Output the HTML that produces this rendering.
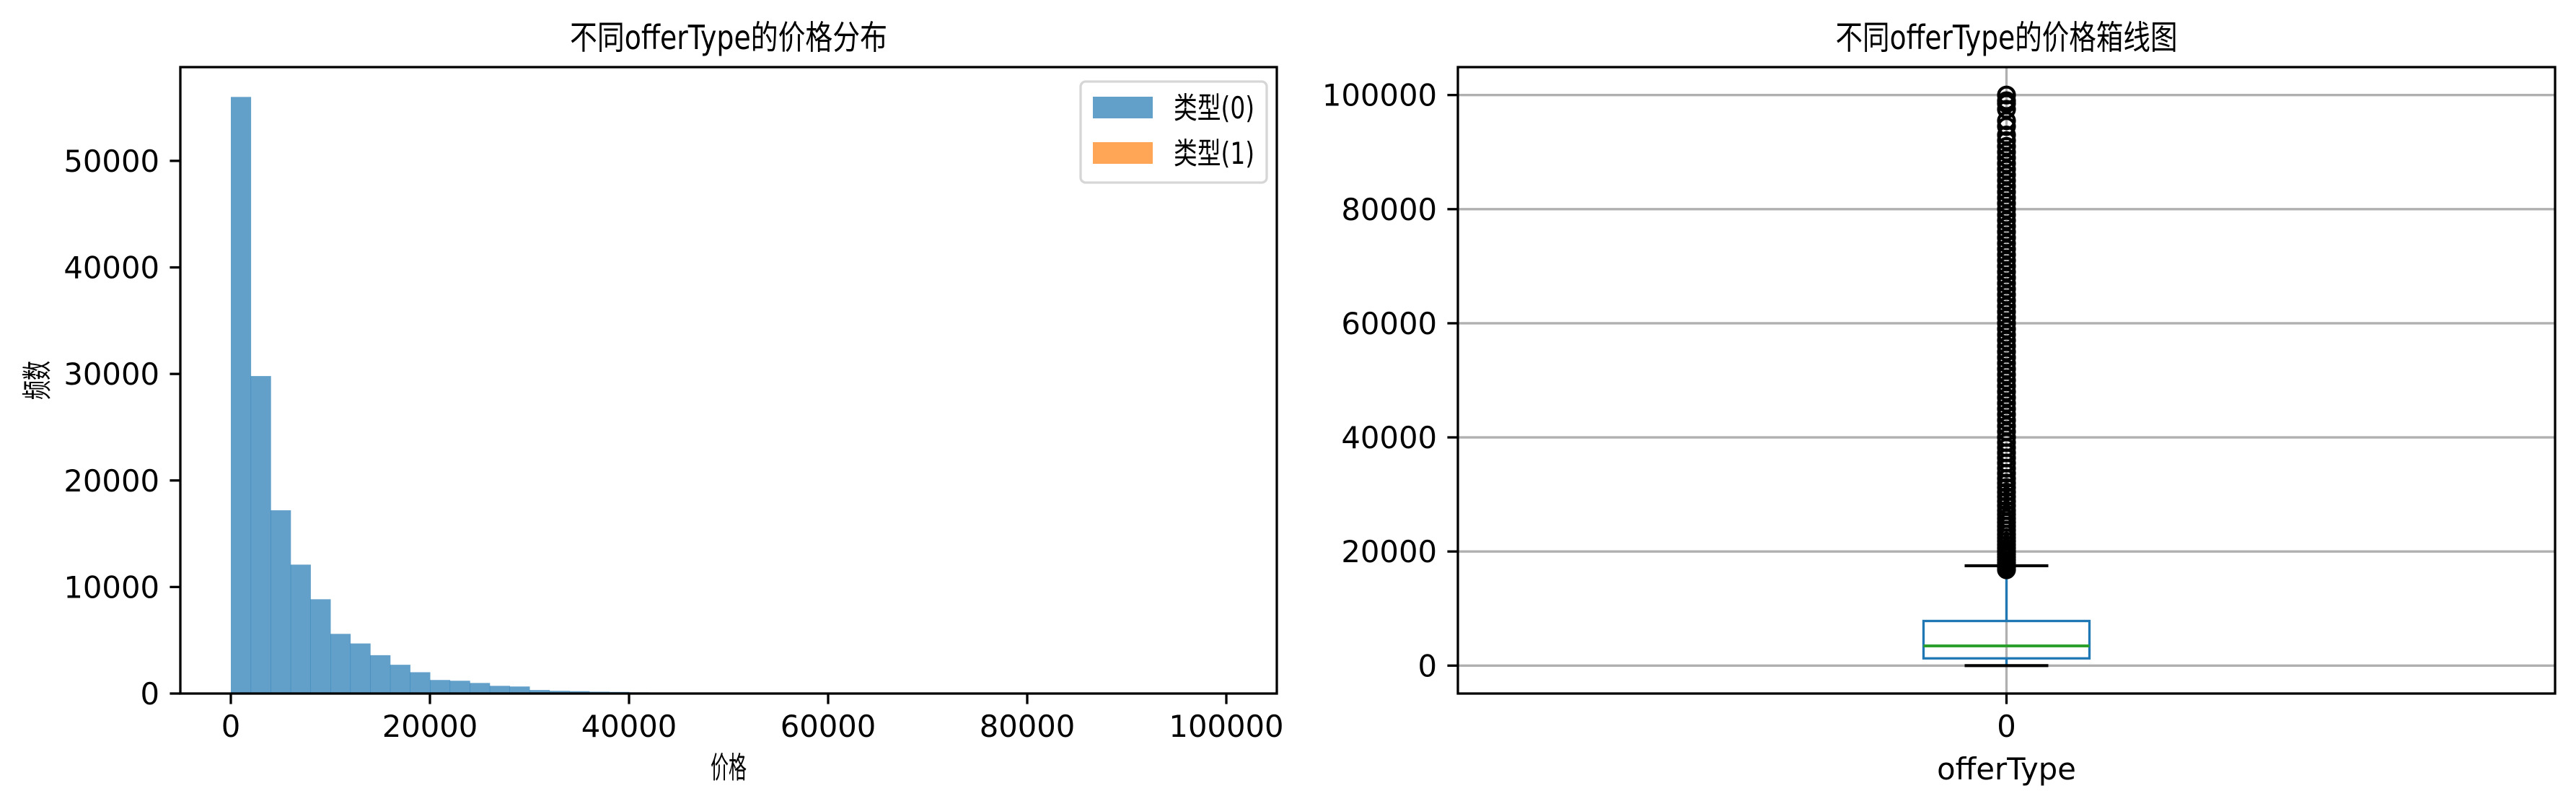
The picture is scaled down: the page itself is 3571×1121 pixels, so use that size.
<!DOCTYPE html>
<html><head><meta charset="utf-8"><style>
html,body{margin:0;padding:0;background:#fff;}
svg{display:block;font-family:"DejaVu Sans","Liberation Sans","Noto Sans CJK SC",sans-serif;}
</style></head><body>
<svg id="chart" width="3571" height="1121" viewBox="0 0 3571 1121" xmlns="http://www.w3.org/2000/svg">
<rect width="3571" height="1121" fill="#fff"/>
<g id="left"></g>
<g id="right"></g>
</svg>
<script>
// ---- histogram data ----
const binStart = 0;
const binWidth = 2000;
const histCounts0 = [56000,29800,17200,12100,8850,5600,4700,3600,2700,2000,1270,1200,990,720,660,330,250,220,170,150,110,80,60,50,40,35,30,25,20,18,15,12,10,10,8,8,6,6,5,5,4,4,3,3,3,2,2,2,2,2];
const histXTicks = [0,20000,40000,60000,80000,100000];
const histYTicks = [0,10000,20000,30000,40000,50000];
const legendLabels = ["类型(0)","类型(1)"];
// ---- boxplot data ----
const boxStats = [1270, 3450, 7820]; // q1, median, q3
const whiskerLow = 0;
const whiskerHigh = 17500;
const fliers = [16800,17200,17600,18000,18500,19000,19500,20000,20600,21200,21800,22400,23000,23700,24400,25100,25800,26500,27200,28000,28800,29600,30400,31200,32000,32800,33700,34600,35500,36400,37300,38200,39100,40000,41000,42000,43000,44000,45000,46000,47000,48000,49000,50000,51000,52000,53000,54000,55000,56000,57000,58000,59000,60000,61000,62000,63000,64000,65000,66000,67000,68000,69000,70000,71000,72000,73000,74000,75000,76000,77000,78000,79000,80000,81000,82000,83000,84000,85000,86000,87000,88000,89000,90000,91000,92000,93000,94500,95500,97500,98500,99000,100000];
const boxYTicks = [0,20000,40000,60000,80000,100000];
const boxXCategories = ["0"];

const NS="http://www.w3.org/2000/svg";
function mk(parent,tag,attrs,text){const e=document.createElementNS(NS,tag);for(const k in attrs)e.setAttribute(k,attrs[k]);if(text!==undefined)e.textContent=text;parent.appendChild(e);return e;}
const FS=41.7, TL=14.6, LW=3.3;

// ===== Left histogram =====
const L=document.getElementById('left');
const lx0=250,lx1=1770,ly0=93,ly1=961;
const hxScale=v=>320+(v)*(1700-320)/100000;
const hyScale=v=>ly1-v*(ly1-ly0)/58800;
histCounts0.forEach((c,i)=>{
  const xa=hxScale(binStart+i*binWidth), xb=hxScale(binStart+(i+1)*binWidth);
  const r=mk(L,'rect',{x:xa,y:hyScale(c),width:xb-xa+0.5,height:ly1-hyScale(c),fill:'#1f77b4','fill-opacity':0.7});
  
  
});
let t=mk(L,'rect',{x:lx0,y:ly0,width:lx1-lx0,height:ly1-ly0,fill:'none',stroke:'#000','stroke-width':LW});

histXTicks.forEach(v=>{
  const x=hxScale(v);
  mk(L,'line',{x1:x,y1:ly1,x2:x,y2:ly1+TL,stroke:'#000','stroke-width':LW});
  const e=mk(L,'text',{x:x,y:1021,'text-anchor':'middle','font-size':FS},String(v));
  
});
histYTicks.forEach(v=>{
  const y=hyScale(v);
  mk(L,'line',{x1:lx0-TL,y1:y,x2:lx0,y2:y,stroke:'#000','stroke-width':LW});
  const e=mk(L,'text',{x:lx0-29,y:y+15,'text-anchor':'end','font-size':FS},String(v));
  
});
t=mk(L,'text',{x:1010,y:68,'text-anchor':'middle','font-size':46,textLength:440,lengthAdjust:'spacingAndGlyphs'},'不同offerType的价格分布');

t=mk(L,'text',{x:1010,y:1078,'text-anchor':'middle','font-size':FS,textLength:50,lengthAdjust:'spacingAndGlyphs'},'价格');

t=mk(L,'text',{x:66,y:527,'text-anchor':'middle','font-size':FS,textLength:54,lengthAdjust:'spacingAndGlyphs',transform:'rotate(-90 66 527)'},'频数');

// legend
t=mk(L,'rect',{x:1498,y:113,width:258,height:140,rx:7,fill:'#fff','fill-opacity':0.8,stroke:'#d6d6d6','stroke-width':3.3});

const legColors=['#1f77b4','#ff7f0e'];
legendLabels.forEach((lab,i)=>{
  const y=134+i*63;
  const p=mk(L,'rect',{x:1515,y:y,width:83,height:30,fill:legColors[i],'fill-opacity':0.7});
  
  const e=mk(L,'text',{x:1627,y:y+30,'font-size':FS,textLength:112,lengthAdjust:'spacingAndGlyphs'},lab);
  
});

// ===== Right boxplot =====
const R=document.getElementById('right');
const rx0=2021,rx1=3542,ry0=93,ry1=961;
const byScale=v=>922.3-v*(922.3-131.7)/100000;
const cx=(rx0+rx1)/2;
boxYTicks.forEach(v=>{
  const y=byScale(v);
  const g=mk(R,'line',{x1:rx0,y1:y,x2:rx1,y2:y,stroke:'#b0b0b0','stroke-width':LW});
  
  mk(R,'line',{x1:rx0-TL,y1:y,x2:rx0,y2:y,stroke:'#000','stroke-width':LW});
  const e=mk(R,'text',{x:rx0-29,y:y+15,'text-anchor':'end','font-size':FS},String(v));
  
});
boxXCategories.forEach(c=>{
  mk(R,'line',{x1:cx,y1:ry0,x2:cx,y2:ry1,stroke:'#b0b0b0','stroke-width':LW});
  mk(R,'line',{x1:cx,y1:ry1,x2:cx,y2:ry1+TL,stroke:'#000','stroke-width':LW});
  const e=mk(R,'text',{x:cx,y:1021,'text-anchor':'middle','font-size':FS},c);
  
});
const bw=115, cw=58;
t=mk(R,'line',{x1:cx,y1:byScale(boxStats[2]),x2:cx,y2:byScale(whiskerHigh),stroke:'#1f77b4','stroke-width':LW});

t=mk(R,'line',{x1:cx,y1:byScale(boxStats[0]),x2:cx,y2:byScale(whiskerLow),stroke:'#1f77b4','stroke-width':LW});

t=mk(R,'line',{x1:cx-cw,y1:byScale(whiskerHigh),x2:cx+cw,y2:byScale(whiskerHigh),stroke:'#000','stroke-width':4.2});

t=mk(R,'line',{x1:cx-cw,y1:byScale(whiskerLow),x2:cx+cw,y2:byScale(whiskerLow),stroke:'#000','stroke-width':4.2});

t=mk(R,'rect',{x:cx-bw,y:byScale(boxStats[2]),width:2*bw,height:byScale(boxStats[0])-byScale(boxStats[2]),fill:'none',stroke:'#1f77b4','stroke-width':LW});

t=mk(R,'line',{x1:cx-bw,y1:byScale(boxStats[1]),x2:cx+bw,y2:byScale(boxStats[1]),stroke:'#2ca02c','stroke-width':4});

fliers.forEach(v=>{
  const c=mk(R,'circle',{cx:cx,cy:byScale(v),r:11,fill:'none',stroke:'#000','stroke-width':4.2});
  
  
});
t=mk(R,'rect',{x:rx0,y:ry0,width:rx1-rx0,height:ry1-ry0,fill:'none',stroke:'#000','stroke-width':LW});

t=mk(R,'text',{x:cx,y:68,'text-anchor':'middle','font-size':46,textLength:474,lengthAdjust:'spacingAndGlyphs'},'不同offerType的价格箱线图');

t=mk(R,'text',{x:cx,y:1080,'text-anchor':'middle','font-size':FS},'offerType');

</script>
</body></html>
